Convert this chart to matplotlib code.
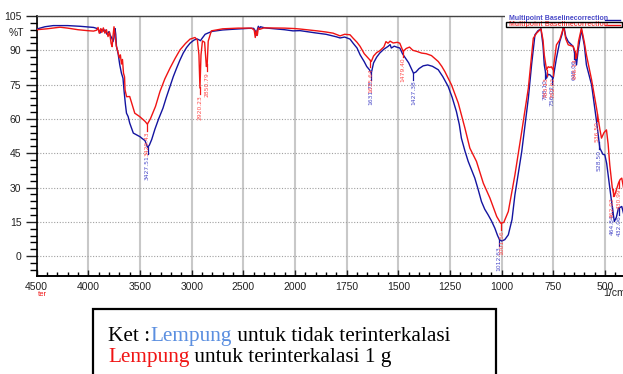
import numpy as np
import matplotlib
matplotlib.use("Agg")
import matplotlib.pyplot as plt
from matplotlib.patches import Rectangle
from matplotlib.ticker import FixedLocator, MultipleLocator
from matplotlib.lines import Line2D

# ── colours ─────────────────────────────────────────────
BLUE = "#1414a0"
RED = "#f01414"
BLUE_LBL = "#4a4ac8"
RED_LBL = "#ff4a4a"
KET_BLUE = "#5b8fe0"

# ── data (wavenumber 1/cm, %T) ──────────────────────────
blue_wn = [4500, 4420, 4340, 4200, 4080, 4000, 3950, 3920, 3900, 3888, 3870, 3855,
           3839, 3820, 3800, 3791, 3775, 3761, 3752, 3742, 3735, 3728, 3712, 3696,
           3680, 3665, 3654, 3641, 3631, 3615, 3600, 3565, 3532, 3500, 3484, 3452,
           3435, 3427, 3410, 3387, 3356, 3320, 3278, 3245, 3210, 3178, 3146, 3115,
           3082, 3050, 3016, 2980, 2950, 2930, 2915, 2900, 2870, 2840, 2800, 2700,
           2600, 2450, 2400, 2385, 2376, 2365, 2355, 2345, 2335, 2300, 2270, 2200,
           2100, 2020, 1976, 1900, 1850, 1800, 1782, 1760, 1734, 1719, 1700, 1685,
           1665, 1653, 1640, 1631, 1620, 1605, 1590, 1570, 1550, 1540, 1534, 1520,
           1505, 1493, 1480, 1465, 1450, 1435, 1427, 1415, 1400, 1380, 1358, 1335,
           1307, 1285, 1259, 1240, 1219, 1205, 1195, 1178, 1162, 1145, 1130, 1115,
           1098, 1082, 1066, 1050, 1033, 1020, 1010, 1000, 985, 968, 950, 936,
           920, 903, 887, 871, 855, 839, 825, 810, 800, 794, 783, 775,
           767, 751, 735, 719, 708, 700, 690, 678, 654, 645, 638, 630,
           614, 600, 590, 565, 541, 525, 510, 501, 492, 485, 470, 455,
           445, 435, 427, 419, 410]
blue_t = [99.3, 100.3, 100.8, 100.8, 100.5, 100.2, 100.0, 99.6, 98.8, 97.5, 99.2, 98.4,
          98.9, 97.0, 98.2, 96.8, 95.5, 93.8, 95.5, 99.5, 97.0, 91.7, 88.5, 83.6,
          80.0, 77.8, 72.0, 66.2, 62.5, 61.0, 58.2, 53.8, 53.0, 52.2, 51.6, 50.5,
          48.5, 47.5, 48.5, 51.0, 55.5, 60.0, 64.7, 69.5, 74.2, 78.5, 82.2, 85.6,
          88.8, 91.2, 93.1, 94.4, 95.0, 94.6, 94.2, 95.2, 97.0, 97.6, 98.3, 98.9,
          99.2, 99.6, 99.6, 98.5, 96.5, 99.0, 100.5, 99.2, 100.3, 99.9, 99.7, 99.4,
          99.0, 98.5, 98.6, 97.6, 97.0, 95.9, 95.4, 95.8, 94.9, 93.1, 91.0, 88.0,
          85.0, 82.9, 81.5, 80.0, 84.5, 87.0, 88.8, 90.5, 91.7, 92.5, 91.0, 91.8,
          91.3, 91.0, 88.5, 86.5, 84.5, 81.5, 80.0, 80.5, 82.0, 83.2, 83.6, 83.0,
          81.5, 78.5, 74.2, 69.5, 63.2, 57.5, 51.6, 46.0, 41.4, 37.5, 34.1, 29.5,
          23.9, 20.5, 18.1, 15.5, 12.2, 9.0, 7.1, 6.6, 7.2, 9.3, 16.0, 26.8,
          36.0, 45.7, 57.5, 69.1, 84.0, 96.8, 98.5, 99.4, 92.0, 83.6, 77.8, 79.5,
          79.3, 77.8, 86.6, 93.8, 97.0, 101.0, 96.0, 93.8, 91.7, 88.0, 83.6, 90.0,
          99.0, 92.0, 83.6, 74.9, 58.9, 47.2, 44.5, 44.3, 40.5, 35.5, 25.0, 15.1,
          17.0, 21.0, 21.3, 21.7, 18.5]

red_wn = [4500, 4400, 4275, 4200, 4100, 4010, 3950, 3920, 3906, 3895, 3880, 3870,
          3855, 3840, 3825, 3810, 3795, 3780, 3770, 3762, 3752, 3742, 3730, 3715,
          3700, 3690, 3680, 3670, 3660, 3650, 3645, 3630, 3600, 3551, 3503, 3451,
          3429, 3400, 3350, 3307, 3260, 3210, 3160, 3113, 3060, 3016, 2968, 2945,
          2930, 2920, 2910, 2896, 2875, 2858, 2850, 2840, 2810, 2700, 2550, 2420,
          2395, 2385, 2375, 2365, 2355, 2340, 2300, 2100, 2000, 1975, 1893, 1850,
          1816, 1782, 1760, 1734, 1719, 1700, 1685, 1665, 1653, 1640, 1631, 1620,
          1605, 1590, 1570, 1560, 1550, 1540, 1525, 1505, 1493, 1477, 1462, 1446,
          1430, 1410, 1388, 1365, 1340, 1307, 1290, 1275, 1243, 1210, 1178, 1154,
          1122, 1089, 1057, 1024, 1005, 990, 968, 936, 903, 871, 847, 831,
          810, 800, 794, 783, 775, 767, 760, 751, 735, 719, 700, 690,
          678, 654, 645, 638, 628, 614, 600, 590, 565, 541, 525, 517,
          505, 493, 485, 477, 465, 455, 445, 435, 427, 419, 410]
red_t = [99.0, 99.4, 100.1, 99.7, 99.0, 98.6, 98.4, 98.8, 100.0, 97.5, 99.5, 97.8,
         99.8, 97.5, 99.0, 96.0, 98.0, 93.0, 91.6, 96.0, 100.3, 97.0, 92.0, 89.5,
         86.7, 88.0, 84.0, 86.0, 80.0, 78.4, 72.7, 69.7, 69.8, 62.5, 61.0, 58.9,
         57.7, 60.0, 65.5, 72.0, 77.5, 82.2, 86.5, 90.2, 93.0, 94.9, 95.6, 94.5,
         88.0, 73.5, 88.0, 94.1, 93.5, 82.9, 84.0, 94.0, 98.5, 99.4, 99.7, 99.7,
         98.8, 95.6, 98.5, 96.5, 99.8, 99.2, 99.8, 99.7, 99.5, 99.3, 98.5, 98.0,
         97.5, 96.3, 97.0, 96.8, 95.3, 93.5, 91.7, 88.5, 87.3, 86.0, 85.1, 87.5,
         89.0, 89.8, 91.5, 93.8, 93.1, 94.0, 93.2, 93.5, 93.1, 89.5, 90.8, 91.4,
         90.0, 89.5, 88.8, 88.5, 87.7, 85.1, 83.0, 80.7, 74.9, 66.9, 56.0, 47.2,
         41.4, 31.9, 25.4, 17.3, 14.4, 14.7, 19.5, 35.5, 54.5, 73.5, 95.3, 97.5,
         99.4, 94.5, 88.0, 81.5, 82.8, 82.5, 82.8, 81.5, 92.4, 94.6, 100.3, 95.0,
         92.4, 91.7, 89.5, 86.6, 94.0, 99.7, 93.5, 88.0, 77.1, 64.7, 55.5, 51.6,
         54.0, 55.2, 49.0, 39.9, 30.0, 26.1, 29.0, 31.9, 33.5, 34.1, 29.5]

blue_peaks = [3427.51, 1631.78, 1427.38, 1012.63, 788.10, 756.02, 648.06, 528.50, 464.84, 432.06]
red_peaks = [3429.43, 2920.23, 2850.79, 1635.64, 1479.40, 1001.56, 783.13, 752.02, 646.14,
             536.50, 462.92, 430.99]

x_major = [4500, 4000, 3500, 3000, 2500, 2000, 1750, 1500, 1250, 1000, 750, 500]
y_major = [0, 15, 30, 45, 60, 75, 90, 105]


# FTIR style axis: scale doubles below 2000 1/cm
def fwd(w):
    w = np.asarray(w, dtype=float)
    return np.where(w >= 2000, w, 2 * w - 2000)


def inv(u):
    u = np.asarray(u, dtype=float)
    return np.where(u >= 2000, u, (u + 2000) / 2)


W, H = 623, 374
fig = plt.figure(figsize=(W / 100, H / 100), dpi=100, facecolor="white")
ax = fig.add_axes([36.7 / W, 98 / H, 1 - 36.7 / W, 260 / H])
ax.set_xscale("function", functions=(fwd, inv))
ax.set_xlim(4500, 413)
ax.set_ylim(-8.7, 105)

ax.plot(blue_wn, blue_t, color=BLUE, lw=1.0, zorder=3)
ax.plot(red_wn, red_t, color=RED, lw=1.0, zorder=4)

# ticks
ax.xaxis.set_major_locator(FixedLocator(x_major))
minor = list(np.arange(4500, 2000, -100)) + list(np.arange(2000, 400, -50))
ax.xaxis.set_minor_locator(FixedLocator(minor))
ax.set_xticklabels([str(v) for v in x_major])
ax.yaxis.set_major_locator(FixedLocator(y_major))
ax.yaxis.set_minor_locator(MultipleLocator(3))

ax.tick_params(axis="x", which="major", direction="in", length=4, width=1.0,
               pad=4, labelsize=7.5, colors="#222222")
ax.tick_params(axis="x", which="minor", direction="in", length=3, width=1.0)
ax.tick_params(axis="y", which="major", direction="out", length=8, width=1.0,
               pad=3, labelsize=7.5, colors="#222222")
ax.tick_params(axis="y", which="minor", direction="out", length=5, width=1.0)
for lab in ax.get_xticklabels() + ax.get_yticklabels():
    lab.set_family("Liberation Sans")

ax.spines["right"].set_visible(False)
ax.spines["top"].set_color("#444444")
ax.spines["top"].set_linewidth(1.0)
ax.spines["left"].set_linewidth(1.2)
ax.spines["bottom"].set_linewidth(1.4)

# grid
ax.grid(axis="x", which="major", color="#c8c8c8", lw=1.5, zorder=1)
ax.grid(axis="y", which="major", color="#a0a0a0", lw=0.8, linestyle=(0, (1, 1.5)), zorder=1)
ax.set_axisbelow(True)


# peak labels
def mark_peaks(peaks, wn, t, line_col, txt_col):
    order = np.argsort(wn)
    xs = np.array(wn, dtype=float)[order]
    ys = np.array(t, dtype=float)[order]
    for p in peaks:
        v = float(np.interp(p, xs, ys))
        ax.plot([p, p], [v, v - 3.0], color=line_col, lw=0.9, zorder=5)
        ax.text(p, v - 3.3, f"{p:.2f}", rotation=90, ha="center", va="top",
                fontsize=4.3, color=txt_col, zorder=6, clip_on=False)


mark_peaks(blue_peaks, blue_wn, blue_t, BLUE, BLUE_LBL)
mark_peaks(red_peaks, red_wn, red_t, RED, RED_LBL)

# axis captions
fig.text(24 / W, 1 - 33 / H, "%T", ha="right", va="center", fontsize=7.5,
         family="Liberation Sans", color="#222222")
fig.text(42 / W, 1 - 294 / H, "ter", ha="center", va="center", fontsize=5.5,
         family="Liberation Sans", color=RED)
fig.text(603 / W, 1 - 293 / H, "1/cm", ha="left", va="center", fontsize=7.5,
         family="Liberation Sans", color="#222222")

# legend in the top right corner
fig.add_artist(Rectangle((505 / W, 1 - 28 / H), 118 / W, 14 / H, transform=fig.transFigure,
                         facecolor="white", edgecolor="none", zorder=10))
fig.add_artist(Rectangle((506 / W, 1 - 27 / H), 116 / W, 5.5 / H, transform=fig.transFigure,
                         facecolor="none", edgecolor="black", lw=1.0, zorder=12))
for yy, col, tcol in [(19, BLUE, BLUE_LBL), (24.3, RED, RED_LBL)]:
    fig.text(509 / W, 1 - yy / H, "Multipoint Baselinecorrection", ha="left", va="center",
             fontsize=5, fontweight="bold", family="Liberation Sans", color=tcol, zorder=11)
    fig.add_artist(Line2D([605 / W, 620 / W], [1 - (yy + 0.5) / H] * 2, transform=fig.transFigure,
                          color=col, lw=1.0, zorder=11))

# note box under the chart
fig.add_artist(Rectangle((93 / W, 1 - 385 / H), 403 / W, 76 / H, transform=fig.transFigure,
                         facecolor="none", edgecolor="black", lw=1.6, zorder=10, clip_on=False))

serif = dict(fontsize=15.3, family="Liberation Serif", va="baseline", ha="left", zorder=11)


def colored_line(parts, x_px, base_px):
    yf = 1 - base_px / H
    t = fig.text(x_px / W, yf, parts[0][0], color=parts[0][1], **serif)
    for s, c in parts[1:]:
        t = ax.annotate(s, xy=(1, yf), xycoords=(t, "figure fraction"), color=c,
                        annotation_clip=False, **serif)


colored_line([("Ket :", "black"), ("Lempung", KET_BLUE),
              (" untuk tidak terinterkalasi", "black")], 108, 340.7)
colored_line([("Lempung", RED), (" untuk terinterkalasi 1 g", "black")], 108, 362.3)

fig.savefig("out.png", dpi=100, facecolor="white")
